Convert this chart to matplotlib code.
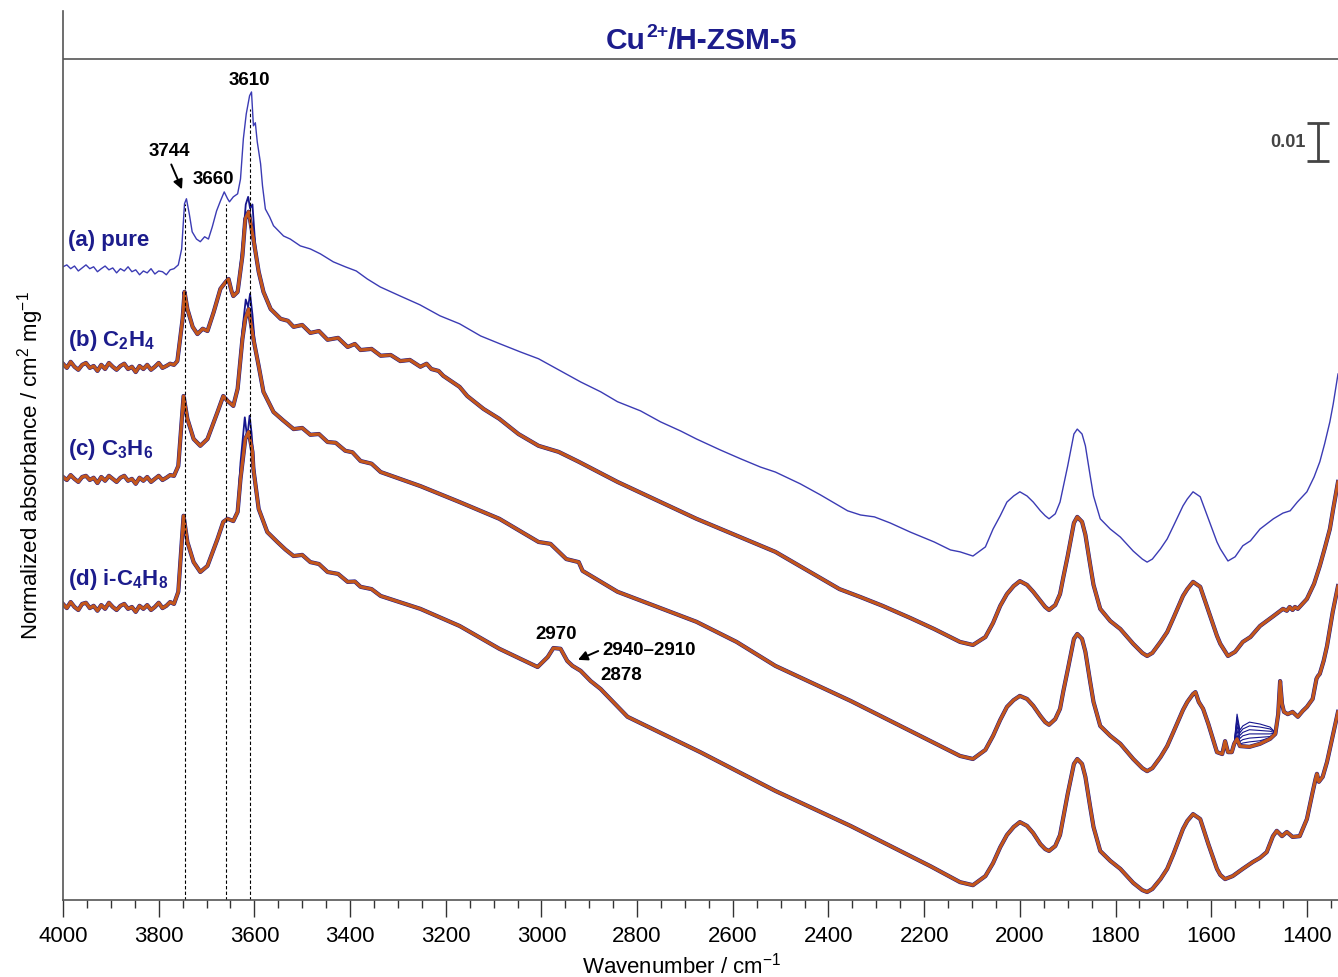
import numpy as np
import matplotlib.pyplot as plt
from matplotlib.ticker import MultipleLocator

plt.rcParams['font.family'] = ['Liberation Sans', 'DejaVu Sans']
plt.rcParams['mathtext.fontset'] = 'custom'
plt.rcParams['mathtext.rm'] = 'Liberation Sans'
plt.rcParams['mathtext.bf'] = 'Liberation Sans:bold'
plt.rcParams['mathtext.it'] = 'Liberation Sans:italic'

# baseline region, 4000-3776 cm-1
base_wn = [4000, 3992, 3984, 3976, 3968, 3960, 3952, 3944, 3936, 3928, 3920, 3912, 3904, 3896,
           3888, 3880, 3872, 3864, 3856, 3848, 3840, 3832, 3824, 3816, 3808, 3800, 3792, 3784,
           3776]

# (a) pure Cu2+/H-ZSM-5
pure_base = [0.1666, 0.1671, 0.1661, 0.1668, 0.1655, 0.1663, 0.1671, 0.1661, 0.1666, 0.1653,
             0.1661, 0.1668, 0.1658, 0.1663, 0.1650, 0.1661, 0.1655, 0.1666, 0.1653, 0.1658,
             0.1645, 0.1655, 0.1650, 0.1661, 0.1647, 0.1655, 0.1653, 0.1645, 0.1658]
pure_mid_wn = [3768, 3759, 3752, 3746, 3742, 3736, 3730, 3721, 3713, 3704,
               3696, 3688, 3679, 3671, 3663, 3656, 3652, 3644, 3635, 3629,
               3623, 3617, 3610, 3606, 3602, 3598, 3594, 3587, 3583, 3577,
               3568, 3560, 3550, 3539, 3525, 3504, 3483, 3462, 3435, 3410,
               3387, 3364, 3337, 3295, 3254, 3212, 3171, 3127, 3086, 3044,
               3006, 2960, 2918, 2876, 2841, 2793, 2751, 2709, 2676, 2626,
               2584, 2542, 2511, 2459, 2417, 2360, 2333, 2304, 2271, 2229,
               2179, 2145]
pure_mid = [0.1661, 0.1671, 0.1713, 0.1832, 0.1845, 0.1805, 0.1758, 0.1739, 0.1732, 0.1745,
            0.1739, 0.1771, 0.1813, 0.1839, 0.1863, 0.1845, 0.1837, 0.1850, 0.1858, 0.1897,
            0.2003, 0.2068, 0.2116, 0.2126, 0.2037, 0.2045, 0.1995, 0.1937, 0.1879, 0.1818,
            0.1797, 0.1774, 0.1761, 0.1747, 0.1739, 0.1721, 0.1713, 0.1700, 0.1679, 0.1666,
            0.1655, 0.1634, 0.1613, 0.1589, 0.1566, 0.1537, 0.1516, 0.1484, 0.1463, 0.1442,
            0.1424, 0.1392, 0.1363, 0.1337, 0.1311, 0.1287, 0.1258, 0.1234, 0.1213, 0.1184,
            0.1161, 0.1139, 0.1126, 0.1095, 0.1066, 0.1024, 0.1013, 0.1008, 0.0992, 0.0968,
            0.0942, 0.0921]
pure_band_wn = [2125, 2098, 2072, 2056, 2041, 2027, 2013, 2000, 1985, 1972,
                1957, 1947, 1939, 1926, 1916, 1909, 1900, 1887, 1880, 1870,
                1863, 1853, 1846, 1832, 1811, 1790, 1763, 1744, 1734, 1723,
                1706, 1692, 1679, 1659, 1650, 1638, 1623, 1606, 1588, 1581,
                1565, 1550, 1534, 1518, 1498, 1470, 1450, 1435, 1420, 1400,
                1385, 1373, 1363, 1352, 1345, 1335]
pure_band = [0.0916, 0.0905, 0.0929, 0.0976, 0.1011, 0.1047, 0.1063, 0.1074, 0.1063, 0.1047,
             0.1024, 0.1011, 0.1003, 0.1016, 0.1047, 0.1089, 0.1142, 0.1226, 0.1239, 0.1226,
             0.1195, 0.1116, 0.1063, 0.1003, 0.0976, 0.0955, 0.0918, 0.0897, 0.0889, 0.0897,
             0.0924, 0.0950, 0.0984, 0.1037, 0.1055, 0.1074, 0.1061, 0.1003, 0.0942, 0.0924,
             0.0892, 0.0903, 0.0932, 0.0945, 0.0976, 0.1003, 0.1018, 0.1024, 0.1047, 0.1074,
             0.1113, 0.1153, 0.1200, 0.1258, 0.1305, 0.1384]

# (b) C2H4
b_base = [0.1411, 0.1400, 0.1416, 0.1403, 0.1395, 0.1408, 0.1413, 0.1400, 0.1405, 0.1392,
          0.1408, 0.1397, 0.1413, 0.1403, 0.1395, 0.1405, 0.1411, 0.1397, 0.1403, 0.1389,
          0.1405, 0.1397, 0.1408, 0.1395, 0.1403, 0.1413, 0.1400, 0.1405, 0.1411]
b_mid_wn = [3768, 3761, 3750, 3746, 3740, 3729, 3719, 3708, 3698, 3685,
            3671, 3660, 3654, 3648, 3644, 3635, 3625, 3619, 3612, 3602,
            3591, 3581, 3566, 3545, 3530, 3518, 3500, 3483, 3465, 3447,
            3425, 3405, 3390, 3378, 3355, 3336, 3315, 3295, 3275, 3253,
            3240, 3230, 3215, 3205, 3171, 3155, 3121, 3088, 3048, 3006,
            2964, 2922, 2841, 2676, 2511, 2377, 2333, 2287, 2229, 2179]
b_mid = [0.1408, 0.1418, 0.1529, 0.1600, 0.1555, 0.1508, 0.1489, 0.1503, 0.1497, 0.1547,
         0.1608, 0.1626, 0.1634, 0.1603, 0.1589, 0.1600, 0.1695, 0.1792, 0.1811, 0.1739,
         0.1653, 0.1600, 0.1555, 0.1529, 0.1524, 0.1508, 0.1513, 0.1492, 0.1497, 0.1474,
         0.1479, 0.1455, 0.1463, 0.1447, 0.1450, 0.1432, 0.1434, 0.1418, 0.1421, 0.1403,
         0.1411, 0.1397, 0.1392, 0.1379, 0.1350, 0.1326, 0.1292, 0.1266, 0.1226, 0.1195,
         0.1179, 0.1153, 0.1100, 0.1003, 0.0916, 0.0818, 0.0797, 0.0774, 0.0742, 0.0713]
b_band_wn = [2125, 2098, 2072, 2056, 2041, 2027, 2013, 2000, 1985, 1972,
             1957, 1947, 1939, 1926, 1916, 1909, 1900, 1887, 1880, 1870,
             1863, 1853, 1846, 1832, 1811, 1790, 1763, 1744, 1734, 1723,
             1706, 1692, 1679, 1659, 1650, 1638, 1623, 1606, 1588, 1581,
             1565, 1550, 1534, 1518, 1498, 1470, 1450, 1442, 1436, 1430,
             1425, 1419, 1400, 1385, 1373, 1363, 1352, 1345, 1335]
b_band = [0.0679, 0.0671, 0.0692, 0.0729, 0.0774, 0.0805, 0.0826, 0.0839, 0.0829, 0.0811,
          0.0787, 0.0771, 0.0763, 0.0776, 0.0805, 0.0850, 0.0905, 0.0992, 0.1008, 0.0995,
          0.0961, 0.0882, 0.0829, 0.0766, 0.0734, 0.0713, 0.0674, 0.0650, 0.0642, 0.0650,
          0.0679, 0.0705, 0.0742, 0.0800, 0.0818, 0.0837, 0.0824, 0.0761, 0.0695, 0.0674,
          0.0642, 0.0653, 0.0679, 0.0692, 0.0721, 0.0747, 0.0766, 0.0761, 0.0771, 0.0763,
          0.0771, 0.0766, 0.0792, 0.0832, 0.0879, 0.0924, 0.0976, 0.1029, 0.1100]
b_peak_wn = [3635, 3625, 3618, 3613, 3609, 3604, 3598, 3591]
b_peak = [0.1600, 0.1720, 0.1830, 0.1850, 0.1820, 0.1830, 0.1720, 0.1653]

# (c) C3H6
c_base = [0.1113, 0.1105, 0.1118, 0.1108, 0.1100, 0.1113, 0.1116, 0.1105, 0.1111, 0.1097,
          0.1113, 0.1103, 0.1116, 0.1108, 0.1100, 0.1111, 0.1116, 0.1103, 0.1108, 0.1095,
          0.1111, 0.1103, 0.1113, 0.1100, 0.1108, 0.1116, 0.1105, 0.1111, 0.1118]
c_mid_wn = [3768, 3759, 3748, 3740, 3727, 3713, 3698, 3677, 3665, 3656,
            3644, 3635, 3625, 3619, 3612, 3602, 3591, 3581, 3560, 3540,
            3518, 3500, 3483, 3465, 3447, 3430, 3410, 3395, 3378, 3355,
            3336, 3253, 3171, 3088, 3006, 2981, 2948, 2922, 2914, 2841,
            2676, 2592, 2511, 2354, 2250, 2187]
c_mid = [0.1116, 0.1142, 0.1326, 0.1266, 0.1213, 0.1195, 0.1213, 0.1284, 0.1326, 0.1313,
         0.1300, 0.1345, 0.1476, 0.1529, 0.1555, 0.1476, 0.1405, 0.1337, 0.1284, 0.1262,
         0.1239, 0.1242, 0.1224, 0.1226, 0.1205, 0.1203, 0.1182, 0.1178, 0.1155, 0.1148,
         0.1126, 0.1089, 0.1047, 0.1003, 0.0942, 0.0937, 0.0897, 0.0889, 0.0866, 0.0811,
         0.0732, 0.0679, 0.0616, 0.0524, 0.0458, 0.0418]
c_band_wn = [2125, 2098, 2072, 2056, 2041, 2027, 2013, 2000, 1985, 1972,
             1957, 1947, 1939, 1926, 1916, 1909, 1900, 1887, 1880, 1870,
             1863, 1853, 1846, 1832, 1811, 1790, 1763, 1744, 1734, 1723,
             1706, 1692, 1679, 1659, 1650, 1638, 1633, 1626, 1617, 1606,
             1588, 1577, 1571, 1565, 1557, 1552, 1546, 1540, 1520, 1498,
             1477, 1466, 1460, 1456, 1452, 1448, 1440, 1430, 1419, 1409,
             1400, 1388, 1380, 1377, 1373, 1365, 1358, 1346, 1335]
c_band = [0.0379, 0.0371, 0.0395, 0.0432, 0.0474, 0.0508, 0.0526, 0.0537, 0.0529, 0.0511,
          0.0484, 0.0468, 0.0461, 0.0476, 0.0503, 0.0550, 0.0605, 0.0687, 0.0700, 0.0687,
          0.0653, 0.0574, 0.0521, 0.0458, 0.0432, 0.0411, 0.0371, 0.0347, 0.0339, 0.0347,
          0.0376, 0.0405, 0.0442, 0.0500, 0.0521, 0.0542, 0.0547, 0.0521, 0.0503, 0.0463,
          0.0389, 0.0384, 0.0418, 0.0389, 0.0389, 0.0411, 0.0424, 0.0405, 0.0403, 0.0411,
          0.0424, 0.0437, 0.0489, 0.0576, 0.0516, 0.0495, 0.0489, 0.0495, 0.0482, 0.0497,
          0.0508, 0.0529, 0.0582, 0.0589, 0.0595, 0.0629, 0.0668, 0.0758, 0.0826]
c_peak_wn = [3635, 3625, 3618, 3613, 3609, 3604, 3598, 3591]
c_peak = [0.1345, 0.1500, 0.1580, 0.1560, 0.1595, 0.1540, 0.1450, 0.1405]
# band near 1546 cm-1 growing through the C3H6 series
fan_wn = [1552, 1546, 1540, 1534, 1520, 1498, 1477, 1467]
fan_abs = [[0.0411, 0.0489, 0.0447, 0.0458, 0.0468, 0.0463, 0.0455, 0.0442],
           [0.0411, 0.0480, 0.0440, 0.0450, 0.0458, 0.0455, 0.0450, 0.0441],
           [0.0411, 0.0470, 0.0433, 0.0441, 0.0448, 0.0446, 0.0444, 0.0440],
           [0.0411, 0.0458, 0.0425, 0.0432, 0.0437, 0.0437, 0.0437, 0.0439],
           [0.0411, 0.0446, 0.0417, 0.0422, 0.0426, 0.0428, 0.0430, 0.0438],
           [0.0411, 0.0434, 0.0410, 0.0413, 0.0416, 0.0419, 0.0427, 0.0437]]

# (d) i-C4H8
d_base = [0.0779, 0.0768, 0.0784, 0.0771, 0.0763, 0.0779, 0.0782, 0.0768, 0.0774, 0.0761,
          0.0776, 0.0766, 0.0782, 0.0771, 0.0763, 0.0774, 0.0779, 0.0766, 0.0771, 0.0758,
          0.0774, 0.0766, 0.0776, 0.0763, 0.0771, 0.0782, 0.0768, 0.0774, 0.0784]
d_mid_wn = [3768, 3759, 3748, 3740, 3727, 3713, 3698, 3677, 3665, 3656,
            3644, 3635, 3629, 3619, 3612, 3604, 3602, 3591, 3573, 3552,
            3535, 3518, 3500, 3483, 3465, 3447, 3425, 3405, 3390, 3378,
            3355, 3336, 3253, 3171, 3088, 3008, 2987, 2975, 2960, 2946,
            2935, 2918, 2897, 2876, 2870, 2820, 2668, 2511, 2354, 2250,
            2187]
d_mid = [0.0779, 0.0811, 0.1011, 0.0942, 0.0889, 0.0863, 0.0879, 0.0950, 0.0995, 0.1003,
         0.0997, 0.1021, 0.1108, 0.1213, 0.1232, 0.1179, 0.1134, 0.1029, 0.0968, 0.0942,
         0.0922, 0.0905, 0.0908, 0.0889, 0.0884, 0.0863, 0.0858, 0.0837, 0.0838, 0.0824,
         0.0818, 0.0800, 0.0766, 0.0721, 0.0661, 0.0613, 0.0639, 0.0663, 0.0661, 0.0629,
         0.0616, 0.0603, 0.0576, 0.0555, 0.0547, 0.0482, 0.0389, 0.0287, 0.0195, 0.0129,
         0.0089]
d_band_wn = [2125, 2098, 2072, 2056, 2041, 2027, 2013, 2000, 1985, 1972,
             1957, 1947, 1939, 1926, 1916, 1909, 1900, 1887, 1880, 1870,
             1863, 1853, 1846, 1832, 1811, 1790, 1763, 1744, 1734, 1723,
             1706, 1692, 1679, 1659, 1650, 1638, 1623, 1606, 1588, 1581,
             1571, 1555, 1534, 1513, 1498, 1484, 1471, 1463, 1452, 1442,
             1430, 1415, 1400, 1388, 1382, 1379, 1375, 1367, 1358, 1346,
             1335]
d_band = [0.0047, 0.0039, 0.0063, 0.0097, 0.0139, 0.0171, 0.0192, 0.0205, 0.0195, 0.0176,
          0.0147, 0.0134, 0.0129, 0.0142, 0.0171, 0.0218, 0.0279, 0.0358, 0.0371, 0.0358,
          0.0324, 0.0245, 0.0192, 0.0129, 0.0103, 0.0082, 0.0045, 0.0026, 0.0021, 0.0029,
          0.0055, 0.0082, 0.0121, 0.0187, 0.0208, 0.0226, 0.0213, 0.0147, 0.0082, 0.0066,
          0.0055, 0.0063, 0.0082, 0.0100, 0.0111, 0.0126, 0.0168, 0.0182, 0.0168, 0.0179,
          0.0166, 0.0168, 0.0213, 0.0284, 0.0318, 0.0332, 0.0311, 0.0324, 0.0363, 0.0432,
          0.0495]
d_peak_wn = [3635, 3629, 3620, 3615, 3610, 3606, 3600, 3591]
d_peak = [0.1021, 0.1150, 0.1270, 0.1215, 0.1274, 0.1230, 0.1130, 0.1029]

sample_labels = ['(a) pure', '(b) C$_\\mathbf{2}$H$_\\mathbf{4}$',
                 '(c) C$_\\mathbf{3}$H$_\\mathbf{6}$', '(d) i-C$_\\mathbf{4}$H$_\\mathbf{8}$']
label_y = [0.1739, 0.1476, 0.1187, 0.0845]

oh_wn = [3744, 3660, 3610]
oh_top = [0.1832, 0.1832, 0.2082]

navy = '#16168e'
orange = '#c3561c'
pure_blue = '#3b3bb4'
text_blue = '#1c1c8c'

pure_wn = base_wn + pure_mid_wn + pure_band_wn
pure_abs = pure_base + pure_mid + pure_band
series = [(base_wn + b_mid_wn + b_band_wn, b_base + b_mid + b_band, b_peak_wn, b_peak),
          (base_wn + c_mid_wn + c_band_wn, c_base + c_mid + c_band, c_peak_wn, c_peak),
          (base_wn + d_mid_wn + d_band_wn, d_base + d_mid + d_band, d_peak_wn, d_peak)]

fig = plt.figure(figsize=(13.38, 9.78), dpi=100)
ax = fig.add_axes([63 / 1338, 77 / 978, 1275 / 1338, 889 / 978])

ax.plot(pure_wn, pure_abs, color=pure_blue, lw=1.0)

for wn, ab, pw, pa in series:
    ax.plot(wn, ab, color=navy, lw=3.0, solid_joinstyle='round')
    ax.plot(pw, pa, color=navy, lw=1.3)
for fa in fan_abs:
    ax.plot(fan_wn, fa, color=navy, lw=0.8)
for wn, ab, pw, pa in series:
    ax.plot(wn, ab, color=orange, lw=2.3, solid_joinstyle='round')

# dashed guide lines for the OH bands
ax.vlines(oh_wn, 0, oh_top, colors='black', linestyles=(0, (3, 2)), lw=0.8)

for lab, y in zip(sample_labels, label_y):
    ax.text(3990, y, lab, color=text_blue, fontsize=16, fontweight='bold', va='center')

bold = dict(fontsize=13.5, fontweight='bold', color='black')
ax.text(3610, 0.2158, '3610', ha='center', va='center', **bold)
ax.text(3777, 0.1971, '3744', ha='center', va='center', **bold)
ax.text(3685, 0.1897, '3660', ha='center', va='center', **bold)
ax.annotate('', xy=(3749, 0.1863), xytext=(3776, 0.1942),
            arrowprops=dict(arrowstyle='-|>', color='black', lw=1.4, mutation_scale=14))
ax.text(2969, 0.0700, '2970', ha='center', va='center', **bold)
ax.text(2873, 0.0658, '2940\u20132910', ha='left', va='center', **bold)
ax.text(2877, 0.0592, '2878', ha='left', va='center', **bold)
ax.annotate('', xy=(2929, 0.0629), xytext=(2876, 0.0658),
            arrowprops=dict(arrowstyle='-|>', color='black', lw=1.4, mutation_scale=14))

# 0.01 scale bar
ax.errorbar([1376], [0.1995], yerr=[0.005], color='#444444', elinewidth=2,
            capsize=8, capthick=2)
ax.text(1402, 0.1995, '0.01', ha='right', va='center', fontsize=13,
        fontweight='bold', color='#444444')

# title header
ax.axhline(0.2213, color='#555555', lw=1.2)
title_kw = dict(fontweight='bold', color=text_blue)
t1 = ax.text(0.426, 0.2263, 'Cu', transform=ax.get_yaxis_transform(),
             ha='left', va='center', fontsize=21.5, **title_kw)
t2 = ax.annotate('2+', xy=(1, 0.5), xycoords=t1, ha='left', va='bottom',
                 fontsize=14, **title_kw)
ax.annotate('/H-ZSM-5', xy=(1, 0), xycoords=(t2, t1), ha='left', va='bottom',
            fontsize=21.5, **title_kw)

ax.set_xlim(4000, 1335)
ax.set_ylim(0, 0.2339)
ax.xaxis.set_major_locator(MultipleLocator(200))
ax.xaxis.set_minor_locator(MultipleLocator(50))
ax.set_yticks([])
ax.tick_params(axis='x', which='major', length=12, width=1, colors='#333333',
               labelsize=16, labelcolor='black', pad=6)
ax.tick_params(axis='x', which='minor', length=6, width=1, colors='#333333')
for side in ['top', 'right']:
    ax.spines[side].set_visible(False)
for side in ['left', 'bottom']:
    ax.spines[side].set_color('#555555')
    ax.spines[side].set_linewidth(1.2)

ax.set_xlabel('Wavenumber / cm$^{\\mathrm{-1}}$', fontsize=16, labelpad=4, x=0.485)
ax.set_ylabel('Normalized absorbance / cm$^{\\mathrm{2}}$ mg$^{\\mathrm{-1}}$', fontsize=16,
              labelpad=12, y=0.49)

fig.savefig('out.png', dpi=100)
